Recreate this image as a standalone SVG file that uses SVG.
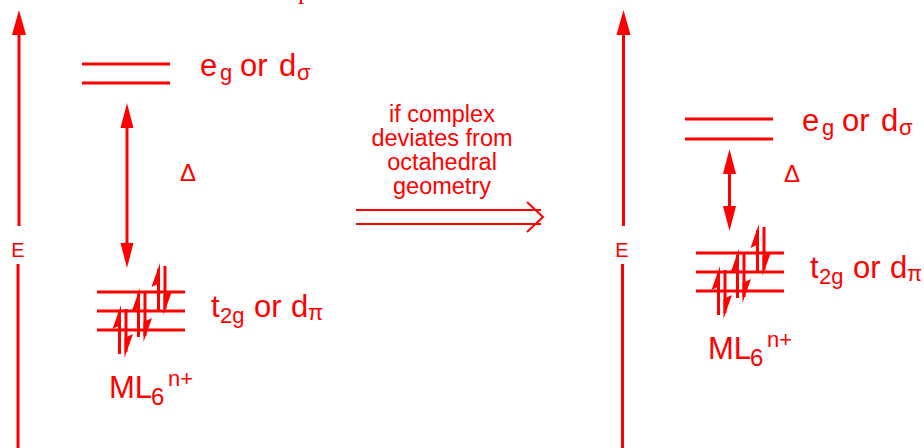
<svg xmlns="http://www.w3.org/2000/svg" width="924" height="448" viewBox="0 0 924 448">
<style>
  .ln{stroke:#ff0000;stroke-width:3;fill:none}
  .thin{stroke:#ff0000;stroke-width:2;fill:none}
  .hd{fill:#ff0000;stroke:none}
  .lbl{font-family:"Liberation Sans",Arial,sans-serif;font-size:31px;fill:#ff0000}
  .sub{font-size:22px}
  .mid{font-family:"Liberation Sans",Arial,sans-serif;font-size:23.5px;fill:#ff0000;text-anchor:middle}
  .ax{font-family:"Liberation Sans",Arial,sans-serif;font-size:20px;fill:#ff0000;text-anchor:middle}
  .dl{font-family:"Liberation Sans",Arial,sans-serif;font-size:24px;fill:#ff0000}
</style>
<defs>
  <g id="up">
    <line class="ln" x1="0" y1="6" x2="0" y2="49"/>
    <polygon class="hd" points="1.5,0 -7,24 1.5,20"/>
  </g>
  <g id="dn">
    <line class="ln" x1="0" y1="-49" x2="0" y2="-6"/>
    <polygon class="hd" points="-1.5,0 7,-24 -1.5,-20"/>
  </g>
  <g id="t2gset">
    <line class="ln" x1="97" y1="292" x2="185" y2="292"/>
    <line class="ln" x1="97" y1="311" x2="185" y2="311"/>
    <line class="ln" x1="97" y1="330" x2="185" y2="330"/>
    <use href="#up" x="119.5" y="305"/>
    <use href="#dn" x="126" y="358"/>
    <use href="#up" x="138.5" y="288"/>
    <use href="#dn" x="145" y="342"/>
    <use href="#up" x="158.5" y="263"/>
    <use href="#dn" x="165" y="315"/>
    <text class="lbl"><tspan x="211" y="317">t</tspan><tspan class="sub" x="220" y="323">2g</tspan><tspan x="254" y="317">or</tspan><tspan x="291" y="317">d</tspan><tspan class="sub" x="308" y="320">π</tspan></text>
    <text class="lbl"><tspan x="109" y="398">ML</tspan><tspan x="151" y="405" style="font-size:24px">6</tspan><tspan class="sub" x="168" y="386">n+</tspan></text>
  </g>
</defs>

<text x="298" y="-1" style="font-family:'Liberation Serif',serif;font-size:26px;fill:#ff0000">p</text>

<g id="connectors">
  <line class="ln" x1="19" y1="30" x2="19" y2="226"/>
  <polygon class="hd" points="19,10 12,35 26,35"/>
  <line class="ln" x1="18" y1="264" x2="18" y2="448"/>
  <line class="ln" x1="623.5" y1="30" x2="623.5" y2="226"/>
  <polygon class="hd" points="623.5,10 616.5,35 630.5,35"/>
  <line class="ln" x1="622.5" y1="264" x2="622.5" y2="448"/>
  <line class="ln" x1="127" y1="120" x2="127" y2="250"/>
  <polygon class="hd" points="127,103 120.5,128 133.5,128"/>
  <polygon class="hd" points="127,268 120.5,243 133.5,243"/>
  <line class="ln" x1="729.5" y1="166" x2="729.5" y2="214"/>
  <polygon class="hd" points="729.5,149 723,174 736,174"/>
  <polygon class="hd" points="729.5,231 723,206 736,206"/>
  <line class="thin" x1="356" y1="210" x2="541" y2="210"/>
  <line class="thin" x1="356" y1="224" x2="541" y2="224"/>
  <polyline class="thin" points="527,202 543,217 527,232"/>
</g>

<g id="left-axis-label"><text class="ax" x="18" y="257">E</text></g>
<g id="right-axis-label"><text class="ax" x="622" y="257">E</text></g>

<g id="left-eg">
  <line class="ln" x1="82" y1="64" x2="170" y2="64"/>
  <line class="ln" x1="82" y1="83" x2="170" y2="83"/>
  <text class="lbl"><tspan x="200" y="76">e</tspan><tspan class="sub" x="220" y="80">g</tspan><tspan x="240" y="76">or</tspan><tspan x="279" y="76">d</tspan><tspan class="sub" x="297" y="80">σ</tspan></text>
</g>
<g id="left-delta"><text class="dl" x="180" y="181">Δ</text></g>
<g id="left-t2g"><use href="#t2gset"/></g>

<g id="transition-label">
  <text class="mid" x="442" y="122">if complex</text>
  <text class="mid" x="442" y="146">deviates from</text>
  <text class="mid" x="442" y="170">octahedral</text>
  <text class="mid" x="442" y="194">geometry</text>
</g>

<g id="right-eg">
  <line class="ln" x1="685" y1="119" x2="773" y2="119"/>
  <line class="ln" x1="685" y1="139" x2="773" y2="139"/>
  <text class="lbl"><tspan x="802" y="131">e</tspan><tspan class="sub" x="822" y="135">g</tspan><tspan x="842" y="131">or</tspan><tspan x="881" y="131">d</tspan><tspan class="sub" x="899" y="135">σ</tspan></text>
</g>
<g id="right-delta"><text class="dl" x="784" y="182">Δ</text></g>
<g id="right-t2g"><use href="#t2gset" x="599" y="-39"/></g>
</svg>
